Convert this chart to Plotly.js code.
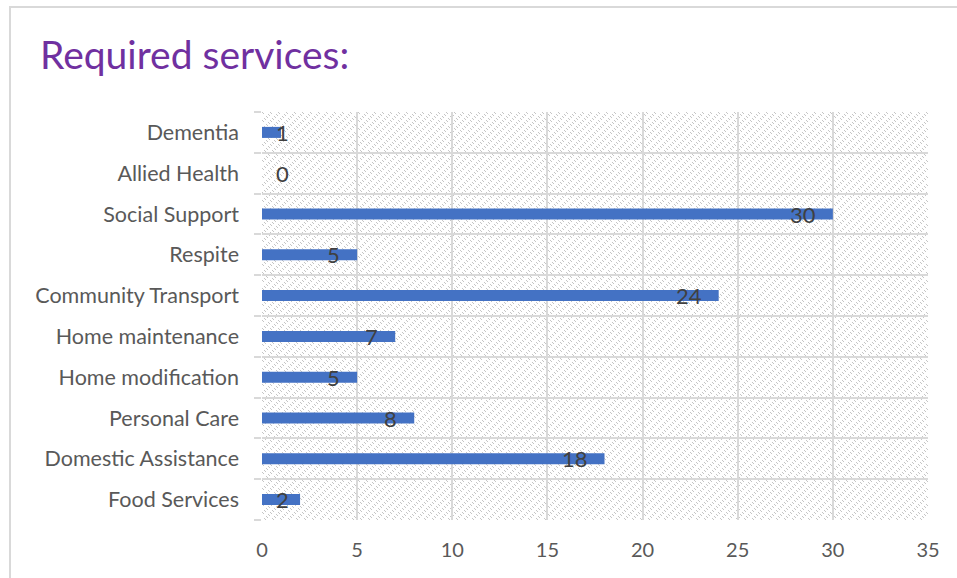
<!DOCTYPE html>
<html>
<head>
<meta charset="utf-8">
<script src="https://cdn.plot.ly/plotly-3.0.1.min.js"></script>
<style>
  html, body { margin: 0; padding: 0; background: #ffffff; }
  #frame { position: absolute; left: 9px; top: 6px; width: 1000px; height: 640px;
           border-left: 2px solid #d9d9d9; border-top: 2px solid #d9d9d9; box-sizing: border-box; }
  #chart { position: absolute; left: 0; top: 0; width: 957px; height: 578px; }
</style>
</head>
<body>
<div id="frame"></div>
<div id="chart"></div>
<script>
// ---- data (bottom to top, as drawn) ----
const categories = ["Food Services", "Domestic Assistance", "Personal Care", "Home modification",
                    "Home maintenance", "Community Transport", "Respite", "Social Support",
                    "Allied Health", "Dementia"];
const counts = [2, 18, 8, 5, 7, 24, 5, 30, 0, 1];
const xTickValues = [0, 5, 10, 15, 20, 25, 30, 35];
const chartTitle = "Required services:";

// ---- styling ----
const FONT = "Lato, 'Open Sans', sans-serif";
const GRID = "#d9d9d9";

// hatched plot-area background (Excel "dashed downward diagonal" pattern fill)
function patternSvg() {
  let rects = "";
  for (let y = 0; y < 8; y++) {
    for (let x = 0; x < 8; x++) {
      if (((x - y + 16) % 4 === 0) && ((x + y) % 8 < 4)) {
        rects += `<rect x='${x}' y='${y}' width='1' height='1' fill='%23c6c6c6'/>`;
      }
    }
  }
  const svg = `<svg xmlns='http://www.w3.org/2000/svg' width='666' height='408' shape-rendering='crispEdges'>` +
    `<defs><pattern id='p' width='8' height='8' patternUnits='userSpaceOnUse'>${rects}</pattern></defs>` +
    `<rect width='666' height='408' fill='white'/><rect width='666' height='408' fill='url(%23p)'/></svg>`;
  return "data:image/svg+xml;utf8," + svg;
}

const barTrace = {
  type: "bar",
  orientation: "h",
  y: categories,
  x: counts,
  marker: { color: "#4472C4" },
  hoverinfo: "x+y"
};

// data labels at the inside end of each bar (Excel style)
const annotations = counts.map((v, i) => ({
  x: Math.max(v, 2.3),
  y: categories[i],
  xref: "x", yref: "y",
  text: String(v),
  showarrow: false,
  xanchor: "right",
  xshift: -15,
  yshift: 0,
  font: { family: FONT, size: 22, color: "#404040" }
}));

const layout = {
  width: 957,
  height: 578,
  margin: { l: 262, r: 29, t: 112, b: 58, pad: 0 },
  paper_bgcolor: "rgba(0,0,0,0)",
  plot_bgcolor: "rgba(0,0,0,0)",
  showlegend: false,
  bargap: 0.73,
  title: {
    text: chartTitle,
    font: { family: FONT, size: 39, color: "#7030A0" },
    xref: "container", yref: "container",
    x: 40 / 957, xanchor: "left",
    y: 1 - 55 / 578, yanchor: "middle"
  },
  xaxis: {
    range: [0, 35],
    tickvals: xTickValues,
    ticktext: xTickValues.map(String),
    showgrid: true,
    gridcolor: GRID,
    gridwidth: 2,
    zeroline: false,
    showline: false,
    ticks: "",
    ticklabelstandoff: 16,
    tickfont: { family: FONT, size: 20, color: "#595959" },
    fixedrange: true
  },
  yaxis: {
    type: "category",
    categoryorder: "array",
    categoryarray: categories,
    tickson: "boundaries",
    ticks: "outside",
    ticklen: 7,
    tickwidth: 2,
    tickcolor: GRID,
    showgrid: true,
    gridcolor: GRID,
    gridwidth: 2,
    showline: false,
    zeroline: false,
    ticklabelstandoff: 22,
    tickfont: { family: FONT, size: 21.5, color: "#595959" },
    fixedrange: true
  },
  images: [{
    source: patternSvg(),
    xref: "paper", yref: "paper",
    x: 0, y: 1, sizex: 1, sizey: 1,
    xanchor: "left", yanchor: "top",
    sizing: "stretch",
    layer: "below"
  }],
  annotations: annotations
};

Plotly.newPlot("chart", [barTrace], layout, { displayModeBar: false, staticPlot: true });
</script>
</body>
</html>
